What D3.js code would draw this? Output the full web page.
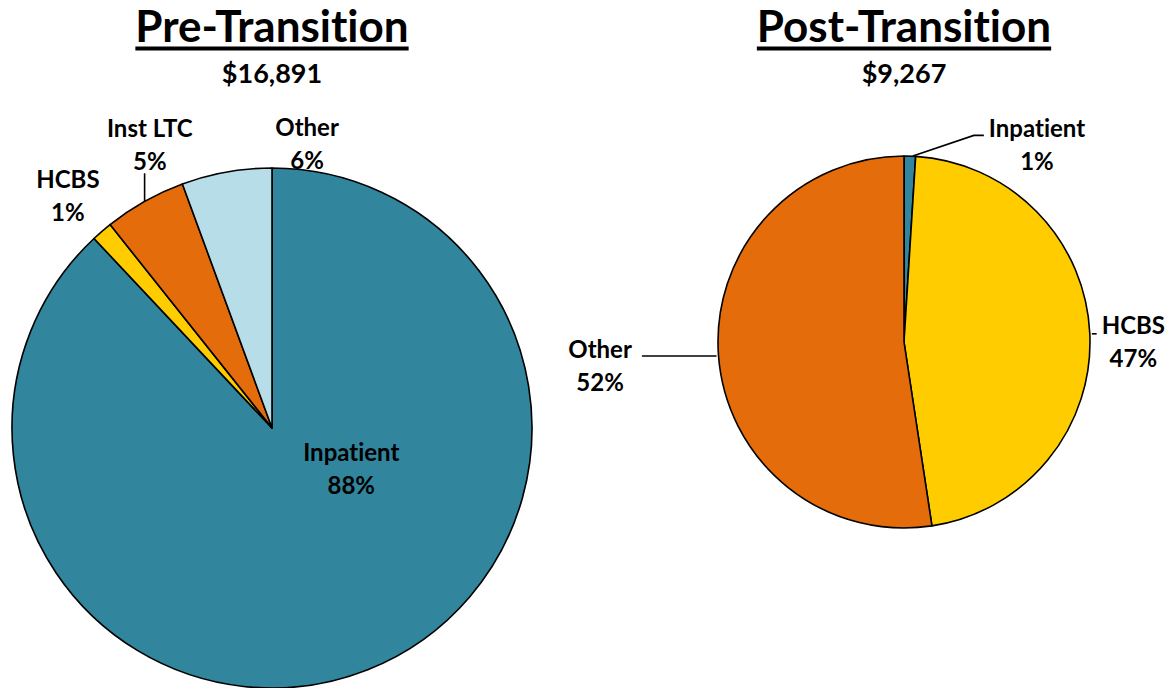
<!DOCTYPE html>
<html>
<head>
<meta charset="utf-8">
<script src="https://cdn.jsdelivr.net/npm/d3@7"></script>
<style>
  html, body { margin: 0; padding: 0; background: #fff; }
  svg { display: block; }
  text { font-family: Lato, "Open Sans", sans-serif; font-weight: bold; fill: #000;
         font-variant-ligatures: none; font-feature-settings: "liga" 0; }
</style>
</head>
<body>
<svg id="chart" width="1166" height="688"></svg>
<script>
// --- data ---
const preTitle = 'Pre-Transition';
const preTotal = '$16,891';
const preCategories = ['Inpatient', 'HCBS', 'Inst LTC', 'Other'];
const preShares = [88.0, 1.3, 5.1, 5.6];
const preColors = ['#31859C', '#FFCC00', '#E46C0A', '#B7DEE8'];

const postTitle = 'Post-Transition';
const postTotal = '$9,267';
const postCategories = ['Inpatient', 'HCBS', 'Other'];
const postShares = [1.0, 46.6, 52.4];
const postColors = ['#31859C', '#FFCC00', '#E46C0A'];

// label placement, in pie radii from the centre (first baseline), plus leader style
const preLabelAt = [
  { x: 0.305, y: 0.125, leader: null },
  { x: -0.785, y: -0.925, leader: null },
  { x: -0.47, y: -1.118, leader: 'up' },
  { x: 0.135, y: -1.125, leader: null }
];
const postLabelAt = [
  { x: 0.715, y: -1.10, leader: 'elbow' },
  { x: 1.258, y: -0.043, leader: 'right' },
  { x: -1.634, y: 0.085, leader: 'left' }
];

const W = 1166;
const svg = d3.select('#chart');
const LINE = 33;

function drawPie(opts) {
  const { cx, cy, r, title, total, cats, shares, colors, labelAt } = opts;
  const g = svg.append('g');

  // title + underline
  const t = g.append('text')
    .attr('x', cx).attr('y', 42)
    .attr('text-anchor', 'middle')
    .style('font-size', '44px')
    .text(title);
  const bb = t.node().getBBox();
  g.append('rect')
    .attr('x', bb.x).attr('y', 46.5)
    .attr('width', bb.width).attr('height', 4)
    .attr('fill', '#000');

  g.append('text')
    .attr('x', cx).attr('y', 83)
    .attr('text-anchor', 'middle')
    .style('font-size', '27px')
    .text(total);

  const pie = d3.pie().sort(null).value(d => d.v);
  const arcs = pie(cats.map((c, i) => ({ c, v: shares[i], col: colors[i] })));
  const arc = d3.arc().innerRadius(0).outerRadius(r);

  const pg = g.append('g').attr('transform', `translate(${cx},${cy})`);
  pg.selectAll('path')
    .data(arcs)
    .join('path')
    .attr('d', arc)
    .attr('fill', d => d.data.col)
    .attr('stroke', '#000')
    .attr('stroke-width', 1.6)
    .attr('stroke-linejoin', 'round');

  const fs = 24;
  arcs.forEach((a, i) => {
    const L = labelAt[i];
    let lx = L.x * r;
    const ly = L.y * r;
    const txt = pg.append('text')
      .attr('text-anchor', 'middle')
      .style('font-size', fs + 'px');
    const s1 = txt.append('tspan').attr('x', lx).attr('y', ly).text(a.data.c);
    const s2 = txt.append('tspan').attr('x', lx).attr('y', ly + LINE).text(Math.round(a.data.v) + '%');
    let box = txt.node().getBBox();
    // keep the label inside the picture
    const over = cx + box.x + box.width - (W - 1);
    if (over > 0) {
      lx -= over;
      s1.attr('x', lx); s2.attr('x', lx);
      box = txt.node().getBBox();
    }

    if (!L.leader) return;
    const mid = (a.startAngle + a.endAngle) / 2;
    const px = Math.sin(mid) * r, py = -Math.cos(mid) * r;
    let pts;
    if (L.leader === 'up') {
      pts = [[px, py], [px, box.y + box.height - 2]];
    } else if (L.leader === 'elbow') {
      const ex = box.x - 5, ey = ly - 2;
      pts = [[px + 3, py], [ex - 10, ey], [ex, ey]];
    } else if (L.leader === 'right') {
      pts = [[px + 2, py], [box.x - 5, py]];
    } else {
      pts = [[px - 2, py], [box.x + box.width + 10, py]];
    }
    pg.append('path')
      .attr('d', d3.line()(pts))
      .attr('fill', 'none')
      .attr('stroke', '#000')
      .attr('stroke-width', 1.6);
  });
}

drawPie({ cx: 272, cy: 428, r: 260, title: preTitle, total: preTotal,
  cats: preCategories, shares: preShares, colors: preColors, labelAt: preLabelAt });
drawPie({ cx: 904, cy: 342, r: 186, title: postTitle, total: postTotal,
  cats: postCategories, shares: postShares, colors: postColors, labelAt: postLabelAt });
</script>
</body>
</html>
